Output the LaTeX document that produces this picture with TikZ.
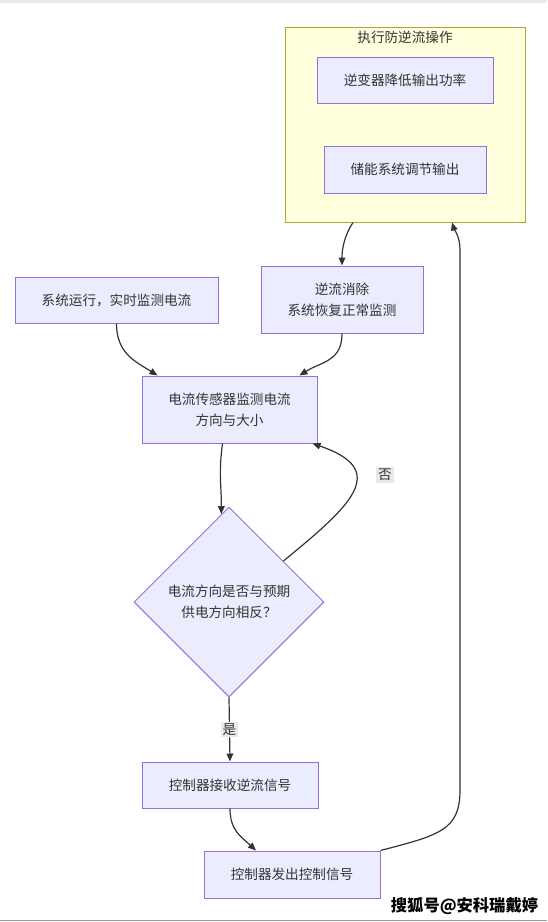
\documentclass[tikz,border=0pt]{standalone}
\usepackage{fontspec}
\setmainfont{Noto Sans CJK SC}
\usetikzlibrary{arrows.meta,calc,shapes.geometric}
\definecolor{flink}{HTML}{333333}
\definecolor{flfill}{HTML}{ECECFF}
\definecolor{flline}{HTML}{9370DB}
\definecolor{grfill}{HTML}{FFFFDE}
\definecolor{grline}{HTML}{AAAA33}
\definecolor{tagbg}{HTML}{E8E8E8}
\tikzset{
  fl text/.style={font=\fontsize{10.2pt}{15.75pt}\selectfont, text=flink},
  fl node/.style={draw=flline, line width=0.75pt, fill=flfill, inner sep=0pt,
    align=center, fl text},
  fl cond/.style={fl node, diamond, aspect=1, minimum width=142.5pt, minimum height=142.5pt},
  fl group/.style={draw=grline, line width=0.75pt, fill=grfill, inner sep=0pt},
  fl arrow/.style={-{Triangle[length=6pt,width=5pt]}, line width=0.9pt, draw=flink},
  fl tag/.style={fill=tagbg, fl text, inner sep=1.5pt}
}

\begin{document}
\begin{tikzpicture}[x=0.75pt, y=-0.75pt]
  \useasboundingbox (0,0) rectangle (547,922);
  \fill[gray!16] (0,0) rectangle (547,3);
  \fill[gray!80] (0,919.5) rectangle (547,921);
  % protective action group
  \node[fl group, minimum width=180pt, minimum height=146.25pt] (act) at (405,124.5) {};
  \node[fl text] (acttitle) at (405,37) {执行防逆流操作};
  \node[fl node, minimum width=132pt, minimum height=34.5pt] (inv) at (405,80) {逆变器降低输出功率};
  \node[fl node, minimum width=121.5pt, minimum height=35.25pt] (store) at (405,169.5) {储能系统调节输出};
  % main flow
  \node[fl node, minimum width=121.5pt, minimum height=50.25pt] (recover) at (342,299.5) {逆流消除\\系统恢复正常监测};
  \node[fl node, minimum width=152.25pt, minimum height=34.5pt] (start) at (116.5,300) {系统运行，实时监测电流};
  \node[fl node, minimum width=131.25pt, minimum height=50.25pt] (sense) at (229.5,409.5) {电流传感器监测电流\\方向与大小};
  \node[fl cond] (judge) at (229,602) {电流方向是否与预期\\供电方向相反？};
  \node[fl node, minimum width=132pt, minimum height=34.5pt] (recv) at (230,785) {控制器接收逆流信号};
  \node[fl node, minimum width=132pt, minimum height=35.25pt] (send) at (292,874.5) {控制器发出控制信号};
  % connectors
  \draw[fl arrow] (start.south) .. controls +(0,30) and +(-22,-14) .. ($(sense.north)+(-72,0)$);
  \draw[fl arrow] (recover.south) .. controls +(0,28) and +(22,-14) .. ($(sense.north)+(70,0)$);
  \draw[fl arrow] ($(act.south)+(-52,0)$) .. controls +(-8,12) and +(0,-18) .. (recover.north);
  \draw[fl arrow] ($(sense.south)+(-7,0)$) .. controls +(-4,30) and +(0,-30) .. ($(judge.north)!0.08!(judge.west)$);
  \draw[fl arrow] ($(judge.north)!0.57!(judge.east)$) .. controls (352,505) and (390,470) .. ($(sense.south east)+(-5,0)$);
  \node[fl tag] (notag) at (385,475) {否};
  \draw[fl arrow] (judge.south) -- node[fl tag] (yestag) {是} (recv.north);
  \draw[fl arrow] (recv.south) .. controls +(0,22) and +(-15,-14) .. ($(send.north)+(-36,0)$);
  \draw[fl arrow] (send.north east) .. controls (440,835) and (460,830) .. (460,790)
    -- (460,250) .. controls (460,236) and (454,229) .. ($(act.south)+(47,0)$);
  % watermark
  \node[font=\fontsize{12.2pt}{12.2pt}\selectfont\bfseries, text=black] (mark) at (464.5,906) {搜狐号@安科瑞戴婷};
\end{tikzpicture}
\end{document}
